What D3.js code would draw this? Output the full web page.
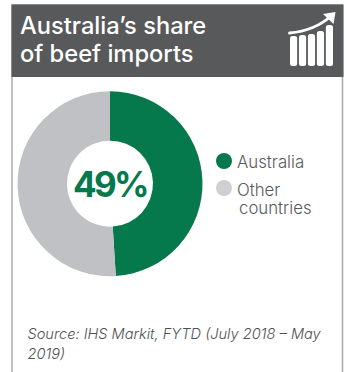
<!DOCTYPE html>
<html>
<head>
<meta charset="utf-8">
<script src="https://cdn.jsdelivr.net/npm/d3@7/dist/d3.min.js"></script>
<style>
html,body{margin:0;padding:0;background:#fff;}
svg{display:block;}
text{font-family:Inter,sans-serif;}
</style>
</head>
<body>
<svg id="chart" width="347" height="372"></svg>
<script>
const categories = ["Australia", "Other countries"];
const shares = [49, 51];
const colours = ["#05784c", "#bfc1c5"];
const legendSwatches = ["#05784c", "#cfd0d3"];
const titleLines = ["Australia’s share", "of beef imports"];
const sourceLines = ["Source: IHS Markit, FYTD (July 2018 – May", "2019)"];
const iconBars = [30, 31, 32, 35, 41];

const svg = d3.select("#chart");

// Card frame and header band
svg.append("rect").attr("x", 12).attr("y", 5).attr("width", 330.5).attr("height", 375)
  .attr("fill", "#fff").attr("stroke", "#a9a9ab").attr("stroke-width", 1.5);
svg.append("rect").attr("x", 11.5).attr("y", 4.5).attr("width", 332).attr("height", 72.5).attr("fill", "#58595b");

svg.selectAll("text.title").data(titleLines).join("text").attr("class", "title")
  .attr("x", 20).attr("y", (d, i) => 33.5 + i * 28)
  .attr("fill", "#fff").attr("font-size", 23.7).attr("font-weight", 500)
  .text(d => d);

// Rising bars icon in the header
const iconX = d3.scaleBand().domain(d3.range(iconBars.length)).range([290, 333]).paddingInner(0.2);
const iconBase = 66;
svg.selectAll("rect.icon").data(iconBars).join("rect").attr("class", "icon")
  .attr("x", (d, i) => iconX(i)).attr("width", iconX.bandwidth())
  .attr("y", d => iconBase - d).attr("height", d => d)
  .attr("rx", 2.5).attr("fill", "#fff");
const trend = "M289.5 33 C306 31.5 320 26 331 16";
svg.append("path").attr("d", trend)
  .attr("fill", "none").attr("stroke", "#58595b").attr("stroke-width", 5.5);
svg.append("path").attr("d", trend)
  .attr("fill", "none").attr("stroke", "#fff").attr("stroke-width", 2.8).attr("stroke-linecap", "round");
svg.append("path").attr("d", "M323 14 L335.5 12 L333.5 24 Z").attr("fill", "#fff");

// Donut
const cx = 110, cy = 183.7;
const pie = d3.pie().sort(null).value(d => d)(shares);
const arc = d3.arc().innerRadius(43).outerRadius(92.5);
const donut = svg.append("g").attr("transform", `translate(${cx},${cy})`);
donut.selectAll("path").data(pie).join("path")
  .attr("d", arc).attr("fill", (d, i) => colours[i]);
donut.append("text").attr("text-anchor", "middle").attr("y", 13)
  .attr("fill", colours[0]).attr("font-size", 35).attr("font-weight", 700)
  .attr("letter-spacing", -2.6)
  .text(shares[0] + "%");

// Legend
const legendY = [161, 188];
svg.selectAll("circle.key").data(categories).join("circle").attr("class", "key")
  .attr("cx", 224).attr("cy", (d, i) => legendY[i]).attr("r", 8)
  .attr("fill", (d, i) => legendSwatches[i]);
const legendText = [["Australia", 237, 168], ["Other", 237, 195.5], ["countries", 239, 214]];
svg.selectAll("text.key").data(legendText).join("text").attr("class", "key")
  .attr("x", d => d[1]).attr("y", d => d[2])
  .attr("fill", "#58595b").attr("font-size", 16.8).attr("font-weight", 300)
  .text(d => d[0]);

// Source note
svg.selectAll("text.source").data(sourceLines).join("text").attr("class", "source")
  .attr("x", 27.5).attr("y", (d, i) => 339 + i * 19.5)
  .attr("fill", "#4f5052").attr("font-size", 14.6).attr("font-style", "italic").attr("font-weight", 300)
  .text(d => d);
</script>
</body>
</html>
